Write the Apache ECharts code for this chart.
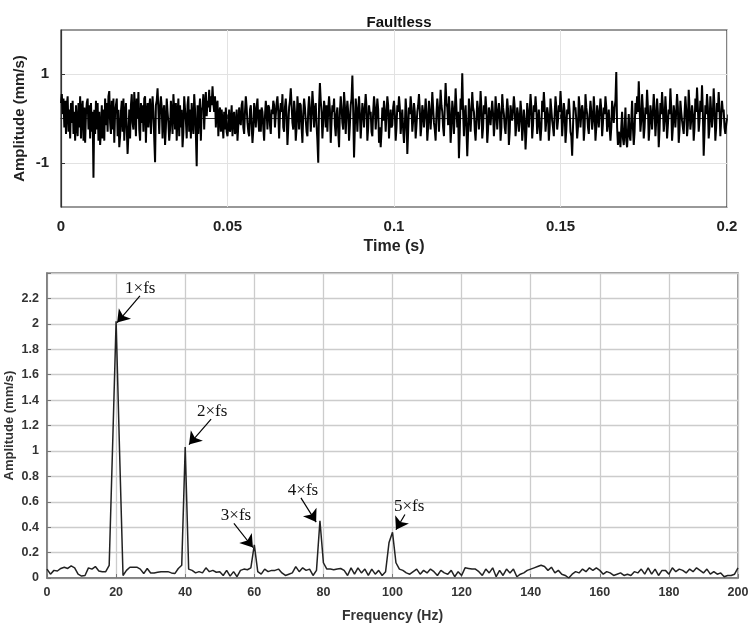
<!DOCTYPE html>
<html>
<head>
<meta charset="utf-8">
<script src="https://cdn.jsdelivr.net/npm/echarts@6/dist/echarts.min.js"></script>
<style>html,body{margin:0;padding:0;background:#fff}#c{width:750px;height:625px}</style>
</head>
<body>
<div id="c"></div>
<script>
// ---- Top panel: time signal (sample step 0.00025 s) ----
const sampleStep = 0.00025;
const signal = [
0.35,0.55,0.1,0.45,-0.2,0.4,-0.35,0.3,0.5,-0.3,0.2,-0.45,0.35,-0.1,0.4,-0.35,0.15,-0.5,0.3,-0.15,-0.4,0.35,-0.2,0.5,-0.45,0.2,0.4,-0.5,0.25,-0.55,0.1,0.35,0.45,-0.25,0.3,-0.45,0.35,-0.3,0.15,-1.34,
0.2,-0.35,0.4,-0.25,0.35,-0.5,0.15,-0.6,-0.3,0.3,-0.45,0.2,-0.5,0.45,-0.15,0.35,-0.3,0.5,0.62,-0.1,-0.35,0.4,-0.25,0.45,-0.55,0.15,0.3,0.45,-0.4,0.2,-0.65,-0.4,0.15,0.4,-0.3,0.45,-0.5,0.1,0.35,-0.25,
-0.8,-0.35,0.2,-0.45,0.3,0.55,-0.1,-0.25,0.6,0.2,-0.4,0.45,0.0,0.6,-0.25,-0.5,0.35,-0.1,0.3,-0.3,0.45,0.5,-0.55,0.15,0.35,-0.2,0.25,0.45,-0.35,0.1,0.5,0.15,-0.45,-0.99,0.3,0.4,0.68,0.2,-0.35,0.25,
0.5,0.25,-0.45,0.15,0.3,-0.6,-0.2,0.45,0.15,-0.1,-0.5,-0.25,0.4,0.1,-0.35,0.55,0.2,-0.25,0.35,-0.5,0.1,0.45,-0.4,0.3,-0.2,0.2,-0.65,-0.3,0.5,0.2,-0.05,-0.45,0.3,0.5,-0.3,0.2,-0.45,0.35,-0.1,-0.35,
0.55,0.2,-0.35,-1.08,0.3,-0.35,0.15,0.45,-0.5,0.2,0.25,0.55,-0.25,0.3,0.6,0.05,0.4,0.25,0.65,0.15,0.5,0.3,0.73,0.35,0.15,0.5,-0.2,0.3,0.4,-0.4,0.1,0.25,-0.3,0.2,-0.1,-0.45,0.15,-0.25,0.25,-0.3,
-0.4,-0.15,0.2,-0.3,-0.15,0.3,-0.4,0.05,0.15,-0.35,-0.25,0.2,-0.5,-0.15,0.25,-0.05,-0.15,0.3,0.4,-0.2,-0.35,0.15,0.5,0.25,-0.1,-0.3,-0.4,0.2,0.3,-0.15,-0.55,-0.25,0.35,0.15,-0.2,0.25,0.45,-0.05,-0.3,0.2,
-0.3,0.25,0.15,-0.2,-0.5,0.05,0.4,0.15,-0.25,0.3,0.25,-0.15,-0.35,0.2,0.1,0.4,0.3,-0.2,-0.2,0.35,0.5,0.15,-0.45,0.1,0.35,0.15,0.55,-0.2,-0.3,0.25,0.45,0.1,-0.6,-0.2,0.25,0.4,0.68,0.3,-0.1,-0.25,
0.4,0.15,-0.5,-0.2,0.5,0.2,-0.25,0.35,0.3,-0.2,-0.55,0.1,0.45,0.25,-0.05,-0.3,-0.4,0.2,0.5,0.2,-0.3,0.1,0.62,0.3,-0.2,0.2,0.35,-0.15,-0.5,-1.0,0.3,0.8,0.4,0.15,-0.45,-0.05,0.4,0.2,-0.2,0.3,
-0.3,0.2,0.5,0.2,-0.55,-0.05,0.3,0.15,0.45,-0.15,-0.4,0.1,0.25,-0.3,-0.65,0.15,0.5,0.25,-0.1,-0.25,0.6,0.3,-0.35,0.1,0.4,0.15,-0.5,-0.15,0.3,0.45,0.97,0.15,-0.88,-0.2,0.45,0.2,-0.3,0.15,0.5,0.1,
-0.45,-0.05,0.35,0.15,-0.2,0.25,0.55,0.25,-0.5,-0.2,0.3,0.1,0.15,-0.3,-0.4,0.15,0.5,0.25,-0.25,0.1,0.45,0.2,-0.55,-0.2,-0.65,-0.3,0.25,-0.05,0.4,0.15,-0.3,0.1,0.5,0.3,-0.45,-0.05,0.2,-0.2,-0.15,0.25,
0.4,0.1,-0.5,-0.2,0.3,0.15,0.5,0.25,-0.35,-0.05,0.2,-0.25,-0.55,-0.2,0.45,0.15,-0.8,-0.3,0.25,0.1,0.5,0.25,-0.3,-0.05,0.35,0.15,-0.45,-0.15,0.15,0.3,0.55,0.2,-0.4,-0.15,0.3,0.15,-0.2,0.1,0.45,0.15,
-0.5,-0.2,0.4,0.15,-0.25,0.1,0.6,0.25,-0.1,-0.25,-0.5,0.1,0.45,0.2,-0.3,0.15,0.65,0.3,0.15,-0.2,-0.4,0.25,0.8,0.35,0.25,-0.15,0.5,0.15,-0.55,-0.2,0.4,0.2,-0.35,0.1,0.68,0.25,-0.2,0.15,-0.9,-0.3,
0.45,0.2,1.02,0.15,-0.4,0.1,0.3,-0.2,-0.85,-0.3,0.45,0.15,-0.3,0.1,0.6,0.25,0.15,-0.25,-0.5,-0.05,0.4,0.2,-0.25,0.1,0.62,0.25,-0.45,-0.2,0.3,0.1,0.5,0.2,-0.55,-0.25,0.25,0.1,-0.15,0.15,0.4,0.1,
-0.4,-0.1,0.5,0.2,-0.25,0.1,0.35,0.15,-0.5,-0.2,0.55,0.25,0.1,-0.2,-0.35,0.1,0.45,0.2,-0.6,-0.3,0.3,0.1,-0.05,0.2,0.5,0.25,-0.4,-0.15,0.25,0.1,-0.3,-0.05,0.4,0.15,-0.5,-0.2,0.2,-0.05,-0.7,-0.3,
0.35,0.1,-0.2,0.15,0.55,0.25,-0.45,-0.15,0.3,0.15,0.5,0.2,-0.35,-0.05,0.2,-0.2,-0.5,-0.2,0.4,0.15,0.6,0.25,-0.3,-0.05,0.25,0.1,-0.5,-0.2,0.45,0.2,-0.05,-0.2,-0.4,0.1,0.5,0.25,-0.25,-0.05,0.3,0.15,
0.62,0.25,-0.4,-0.05,0.35,0.15,-0.55,-0.25,0.2,0.1,0.45,0.15,-0.3,-0.4,-0.84,-0.2,0.4,0.2,0.25,-0.05,-0.45,-0.2,0.5,0.25,-0.2,0.1,0.3,0.15,-0.5,-0.2,0.55,0.25,0.1,-0.2,-0.35,0.1,0.4,0.15,-0.25,-0.05,
0.5,0.15,-0.5,-0.2,0.3,0.1,-0.2,0.15,0.45,0.2,-0.4,-0.1,0.25,0.1,0.5,0.25,-0.3,-0.05,0.2,-0.2,-0.5,-0.2,0.4,0.15,-0.1,0.25,0.4,1.05,-0.2,-0.6,-0.3,-0.4,-0.65,-0.2,0.15,-0.45,-0.6,-0.25,0.25,-0.5,
-0.65,-0.3,0.1,-0.4,-0.5,-0.05,0.4,-0.2,-0.6,-0.3,0.35,0.1,0.5,0.15,0.84,0.25,-0.3,-0.05,0.55,0.2,-0.45,-0.2,0.25,0.1,0.65,0.25,-0.5,-0.2,0.3,0.1,-0.25,0.15,0.55,0.2,-0.4,-0.05,0.45,0.15,-0.65,-0.25,
0.35,0.1,0.6,0.25,-0.3,-0.05,0.5,0.15,-0.45,-0.15,0.2,0.1,0.68,0.25,-0.5,-0.2,0.3,0.1,-0.2,0.15,0.55,0.25,-0.55,-0.25,0.4,0.15,-0.05,-0.2,-0.35,0.1,0.5,0.2,-0.4,-0.15,0.65,0.25,-0.25,-0.05,0.3,0.1,
-0.5,-0.2,0.45,0.15,0.7,0.25,-0.3,-0.05,0.4,0.15,0.75,0.15,-0.84,-0.3,0.3,0.1,0.55,0.25,-0.45,-0.2,0.5,0.15,-0.2,0.1,0.68,0.25,-0.5,-0.2,0.35,0.15,0.6,0.2,-0.4,-0.05,0.4,0.15,0.2,-0.2,-0.35,-0.15,
0.0
];
const ampTicks = [-1, 1];

// ---- Bottom panel: spectrum, 1 Hz bins 0..200 ----
const spectrum = [
0.07,0.03,0.06,0.055,0.075,0.085,0.075,0.095,0.08,0.03,
0.015,0.02,0.08,0.07,0.09,0.055,0.05,0.05,0.1,1.05,
2.02,1.0,0.02,0.06,0.085,0.085,0.085,0.07,0.035,0.075,
0.04,0.04,0.045,0.05,0.05,0.05,0.04,0.035,0.075,0.1,
1.03,0.07,0.06,0.04,0.05,0.04,0.08,0.05,0.06,0.045,
0.05,0.02,0.06,0.015,0.05,0.01,0.06,0.07,0.065,0.08,
0.26,0.05,0.03,0.07,0.05,0.06,0.06,0.07,0.04,0.02,
0.03,0.04,0.09,0.05,0.08,0.06,0.07,0.02,0.06,0.45,
0.12,0.07,0.07,0.065,0.07,0.075,0.06,0.02,0.08,0.03,
0.08,0.04,0.07,0.02,0.07,0.03,0.06,0.02,0.05,0.28,
0.36,0.12,0.07,0.06,0.04,0.03,0.05,0.07,0.03,0.06,
0.04,0.07,0.05,0.02,0.06,0.04,0.03,0.06,0.01,0.05,
0.02,0.08,0.075,0.07,0.07,0.05,0.02,0.07,0.04,0.08,
0.01,0.06,0.02,0.07,0.04,0.07,0.01,0.03,0.04,0.06,
0.07,0.08,0.09,0.1,0.09,0.06,0.085,0.04,0.06,0.03,
0.02,0.0,0.03,0.05,0.04,0.07,0.05,0.08,0.06,0.08,
0.06,0.03,0.05,0.04,0.02,0.03,0.04,0.02,0.03,0.02,
0.05,0.04,0.07,0.03,0.08,0.03,0.07,0.02,0.06,0.06,
0.03,0.08,0.05,0.07,0.06,0.04,0.07,0.05,0.08,0.06,
0.04,0.07,0.03,0.05,0.03,0.04,0.01,0.02,0.02,0.03,
0.08
];
const harmonicLabels = ['1×fs','2×fs','3×fs','4×fs','5×fs'];
const labelAt = [[27.0,2.28],[47.8,1.31],[54.7,0.49],[74.1,0.69],[104.8,0.56]];
const arrowFrom = [[26.9,2.22],[47.5,1.25],[54.1,0.43],[73.5,0.63],[103.6,0.50]];
const arrowTo = [[20.3,2.01],[41.1,1.05],[59.6,0.24],[77.9,0.44],[101.0,0.38]];

const sigData = signal.map((v, i) => [i * sampleStep, v]);
const specData = spectrum.map((v, i) => [i, v]);

const bold = {fontFamily: 'Liberation Sans, Arial, sans-serif', fontWeight: 'bold'};
const chart = echarts.init(document.getElementById('c'), null, {renderer: 'canvas'});
chart.setOption({
  animation: false,
  backgroundColor: '#fff',
  title: {
    text: 'Faultless', left: 394, top: 10, textAlign: 'center',
    textStyle: Object.assign({fontSize: 15, color: '#111'}, bold)
  },
  grid: [
    {left: 61, right: 23, top: 30, height: 177, show: true, borderColor: '#333', borderWidth: 1.2,
     outerBoundsMode: 'none', containLabel: false},
    {left: 47, right: 12, top: 273, height: 305, show: true, borderColor: '#777', borderWidth: 1.5,
     outerBoundsMode: 'none', containLabel: false}
  ],
  xAxis: [
    {
      gridIndex: 0, type: 'value', min: 0, max: 0.2, interval: 0.05,
      name: 'Time (s)', nameLocation: 'middle', nameGap: 32, nameMoveOverlap: false,
      nameTextStyle: Object.assign({fontSize: 16, color: '#222'}, bold),
      axisLine: {lineStyle: {color: '#333', width: 1.2}},
      axisTick: {inside: true, length: 4, lineStyle: {color: '#333'}},
      axisLabel: Object.assign({fontSize: 15, color: '#222', margin: 12, formatter: v => String(+v.toFixed(2))}, bold),
      splitLine: {show: true, lineStyle: {color: '#e2e2e2', width: 1}}
    },
    {
      gridIndex: 1, type: 'value', min: 0, max: 200, interval: 20,
      name: 'Frequency (Hz)', nameLocation: 'middle', nameGap: 31, nameMoveOverlap: false,
      nameTextStyle: Object.assign({fontSize: 14, color: '#333'}, bold),
      axisLine: {lineStyle: {color: '#777', width: 1.5}},
      axisTick: {inside: true, length: 4, lineStyle: {color: '#777'}},
      axisLabel: Object.assign({fontSize: 12.5, color: '#333', margin: 8}, bold),
      splitLine: {show: true, lineStyle: {color: '#cccccc', width: 1.3}}
    }
  ],
  yAxis: [
    {
      gridIndex: 0, type: 'value', min: -2, max: 2,
      name: 'Amplitude (mm/s)', nameLocation: 'middle', nameGap: 34, nameMoveOverlap: false,
      nameTextStyle: Object.assign({fontSize: 15, color: '#222'}, bold),
      axisLine: {lineStyle: {color: '#333', width: 1.2}},
      axisTick: {inside: true, length: 4, customValues: ampTicks, lineStyle: {color: '#333'}},
      axisLabel: Object.assign({fontSize: 15, color: '#222', margin: 12, customValues: ampTicks}, bold),
      splitLine: {show: true, lineStyle: {color: '#e2e2e2', width: 1}}
    },
    {
      gridIndex: 1, type: 'value', min: 0, max: 2.4, interval: 0.2,
      name: 'Amplitude (mm/s)', nameLocation: 'middle', nameGap: 31, nameMoveOverlap: false,
      nameTextStyle: Object.assign({fontSize: 13, color: '#333'}, bold),
      axisLine: {lineStyle: {color: '#777', width: 1.5}},
      axisTick: {inside: true, length: 4, lineStyle: {color: '#777'}},
      axisLabel: Object.assign({fontSize: 12.5, color: '#333', margin: 8,
        formatter: v => v > 2.3 ? '' : String(+v.toFixed(1))}, bold),
      splitLine: {show: true, lineStyle: {color: '#cccccc', width: 1.3}}
    }
  ],
  series: [
    {
      type: 'line', xAxisIndex: 0, yAxisIndex: 0, data: sigData,
      showSymbol: false, symbol: 'none',
      lineStyle: {color: '#000', width: 2}
    },
    {
      type: 'line', xAxisIndex: 1, yAxisIndex: 1, data: specData,
      showSymbol: false, symbol: 'none',
      lineStyle: {color: '#222', width: 1.5},
      markLine: {
        silent: true, symbol: ['none', 'arrow'], symbolSize: 12,
        label: {show: false},
        lineStyle: {color: '#000', width: 1.2, type: 'solid'},
        data: arrowFrom.map((p, i) => [{coord: p}, {coord: arrowTo[i]}])
      },
      markPoint: {
        silent: true, symbol: 'circle', symbolSize: 1,
        itemStyle: {color: 'rgba(0,0,0,0)'},
        label: {show: true, position: 'inside', color: '#111', fontSize: 17,
          fontFamily: 'Liberation Serif, Times New Roman, serif', formatter: p => p.name},
        data: labelAt.map((p, i) => ({name: harmonicLabels[i], coord: p}))
      }
    }
  ]
});
</script>
</body>
</html>
